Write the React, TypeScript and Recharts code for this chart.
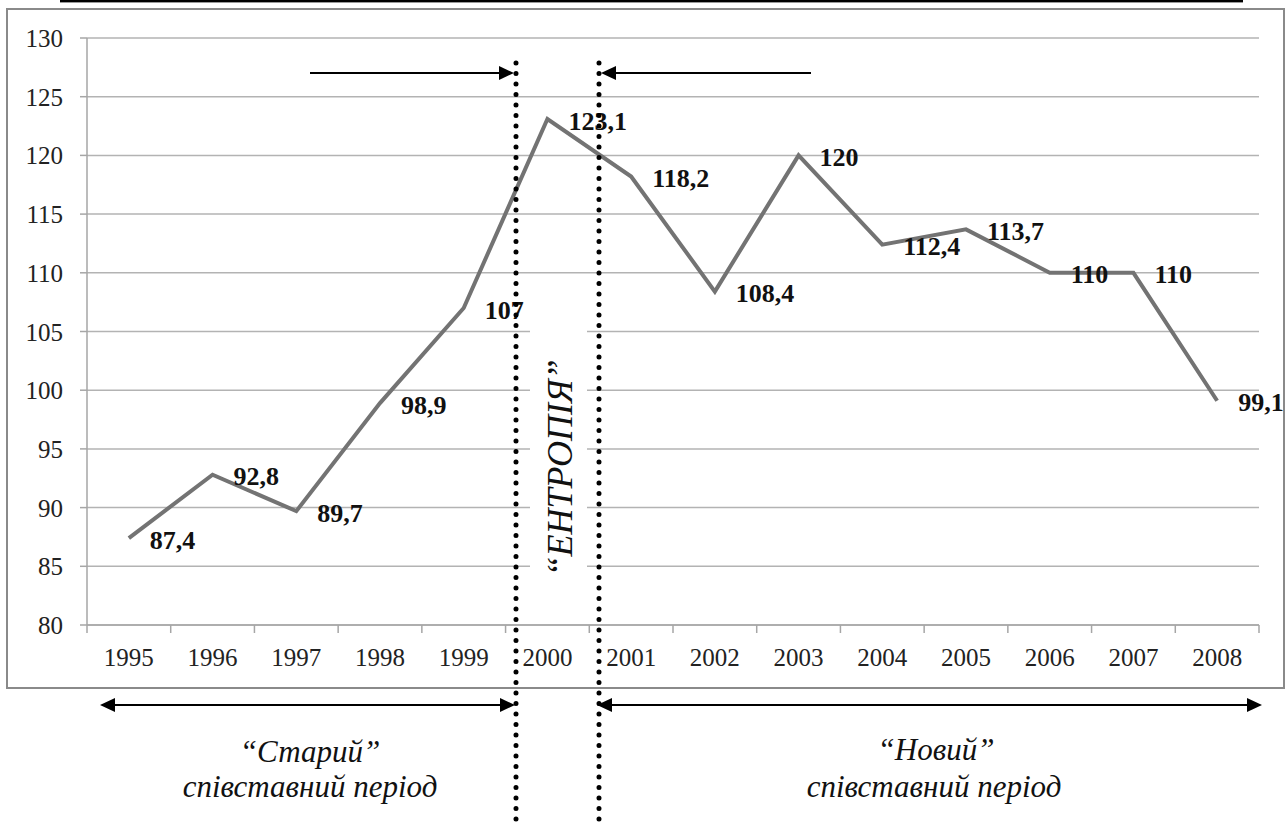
import { LineChart, Line, XAxis, YAxis, CartesianGrid } from "recharts";

const years = ["1995", "1996", "1997", "1998", "1999", "2000", "2001", "2002", "2003", "2004", "2005", "2006", "2007", "2008"];
const values = [87.4, 92.8, 89.7, 98.9, 107, 123.1, 118.2, 108.4, 120, 112.4, 113.7, 110, 110, 99.1];
const yTicks = [80, 85, 90, 95, 100, 105, 110, 115, 120, 125, 130];

const chartData = years.map((year, i) => ({ year, value: values[i] }));

const W = 1286;
const H = 823;
const PLOT_LEFT = 87;
const PLOT_RIGHT = 1259;
const BAND = (PLOT_RIGHT - PLOT_LEFT) / years.length;
const FONT = "Times New Roman";

const fmt = (v: number) => String(v).replace(".", ",");

function XTick(props: any) {
  const { x, y, payload, index } = props;
  const last = index === years.length - 1;
  return (
    <g>
      <line x1={x - BAND / 2} x2={x - BAND / 2} y1={y} y2={y + 8} stroke="#a6a6a6" strokeWidth={1.5} />
      {last && <line x1={x + BAND / 2} x2={x + BAND / 2} y1={y} y2={y + 8} stroke="#a6a6a6" strokeWidth={1.5} />}
      <text x={x} y={y + 41} textAnchor="middle" fontSize={25} fontFamily={FONT} fill="#222">
        {payload.value}
      </text>
    </g>
  );
}

function YTick(props: any) {
  const { x, y, payload } = props;
  return (
    <text x={x} y={y} dy={9} textAnchor="end" fontSize={25} fontFamily={FONT} fill="#222">
      {payload.value}
    </text>
  );
}

function PointLabel(props: any) {
  const { x, y, value } = props;
  return (
    <text x={x + 21} y={y + 2} dominantBaseline="central" fontSize={26} fontWeight="bold" fontFamily={FONT} fill="#111">
      {fmt(value)}
    </text>
  );
}

function Arrow({ x1, x2, y, head1, head2 }: { x1: number; x2: number; y: number; head1?: boolean; head2?: boolean }) {
  const hl = 15;
  const hw = 7;
  return (
    <g>
      <line x1={head1 ? x1 + hl - 2 : x1} x2={head2 ? x2 - hl + 2 : x2} y1={y} y2={y} stroke="#000" strokeWidth={2} />
      {head1 && <polygon points={`${x1},${y} ${x1 + hl},${y - hw} ${x1 + hl},${y + hw}`} fill="#000" />}
      {head2 && <polygon points={`${x2},${y} ${x2 - hl},${y - hw} ${x2 - hl},${y + hw}`} fill="#000" />}
    </g>
  );
}

function Caption({ x, y, children, size = 31 }: { x: number; y: number; children: string; size?: number }) {
  return (
    <text x={x} y={y} textAnchor="middle" fontSize={size} fontFamily={FONT} fontStyle="italic" fill="#111">
      {children}
    </text>
  );
}

function Overlay() {
  const dotted = [516, 599];
  return (
    <svg width={W} height={H} style={{ position: "absolute", left: 0, top: 0, pointerEvents: "none" }}>
      {/* top rule and frame */}
      <rect x={60} y={0} width={1183} height={2} fill="#000" />
      <rect x={60} y={2} width={1183} height={1} fill="#999" />
      <rect x={7} y={9} width={1277} height={679} fill="none" stroke="#8a8a8a" strokeWidth={2} />

      {/* entropy label */}
      <rect x={530} y={322} width={57} height={256} fill="#fff" />
      <g transform="rotate(-90, 572, 468)">
        <Caption x={572} y={468} size={36}>“ЕНТРОПІЯ”</Caption>
      </g>

      {dotted.map((x) => (
        <line
          key={x}
          x1={x}
          x2={x}
          y1={63}
          y2={H + 4}
          stroke="#000"
          strokeWidth={5}
          strokeLinecap="round"
          strokeDasharray="0 10.5"
        />
      ))}

      {/* arrows */}
      <Arrow x1={310} x2={514} y={73} head2 />
      <Arrow x1={601} x2={811} y={73} head1 />
      <Arrow x1={100} x2={515} y={705} head1 head2 />
      <Arrow x1={597} x2={1262} y={705} head1 head2 />

      {/* period captions */}
      <Caption x={310} y={762}>“Старий”</Caption>
      <Caption x={310} y={797}>співставний період</Caption>
      <Caption x={936} y={760}>“Новий”</Caption>
      <Caption x={934} y={797}>співставний період</Caption>
    </svg>
  );
}

export default function App() {
  return (
    <div style={{ position: "absolute", left: 0, top: 0, width: W, height: H, background: "#fff", fontFamily: FONT }}>
      <LineChart width={W} height={H} data={chartData} margin={{ top: 38, right: W - PLOT_RIGHT, bottom: 158, left: 0 }}>
        <CartesianGrid vertical={false} stroke="#b3b3b3" strokeWidth={1.5} />
        <XAxis
          dataKey="year"
          scale="band"
          height={40}
          interval={0}
          tickLine={false}
          tickSize={0}
          tickMargin={0}
          axisLine={{ stroke: "#a6a6a6", strokeWidth: 1.5 }}
          tick={<XTick />}
        />
        <YAxis
          width={PLOT_LEFT}
          domain={[80, 130]}
          ticks={yTicks}
          interval={0}
          tickSize={7}
          tickMargin={17}
          tickLine={{ stroke: "#a6a6a6", strokeWidth: 1.5 }}
          axisLine={{ stroke: "#a6a6a6", strokeWidth: 1.5 }}
          tick={<YTick />}
        />
        <Line
          type="linear"
          dataKey="value"
          stroke="#737373"
          strokeWidth={4}
          dot={false}
          isAnimationActive={false}
          label={<PointLabel />}
        />
      </LineChart>
      <Overlay />
    </div>
  );
}
